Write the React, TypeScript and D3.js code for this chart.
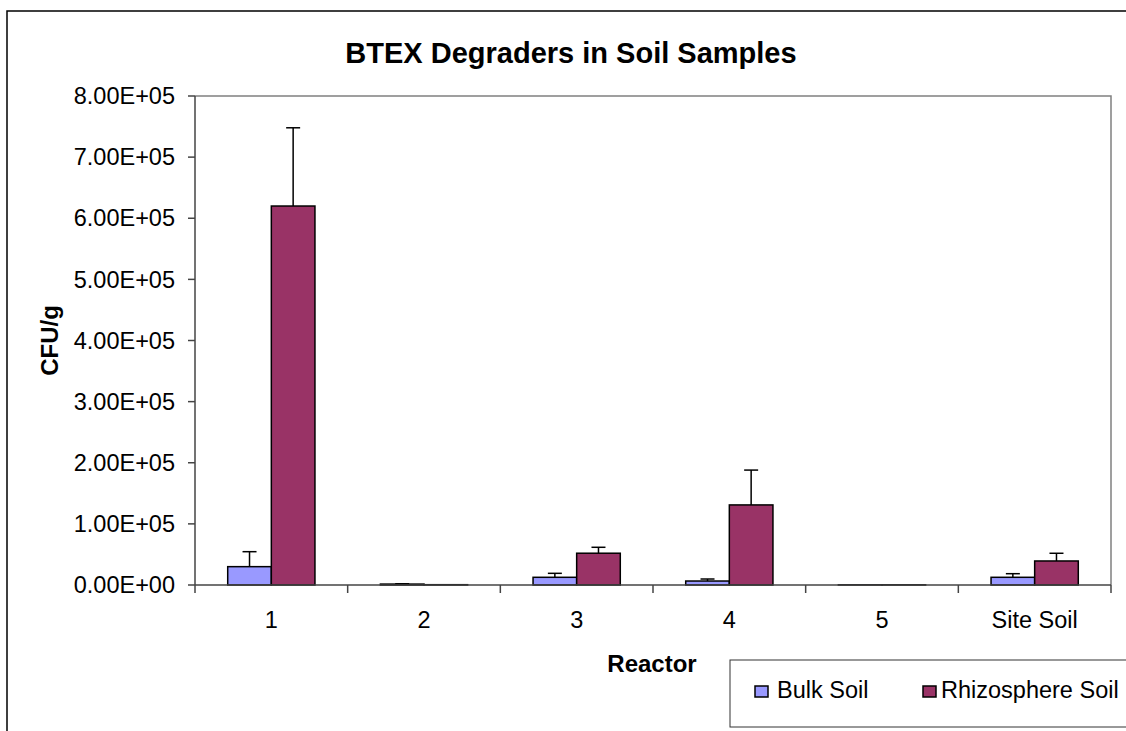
import React from "react";
import * as d3 from "d3";

const categories = ["1", "2", "3", "4", "5", "Site Soil"];
const seriesNames = ["Bulk Soil", "Rhizosphere Soil"];
const bulkValues = [30000, 1500, 12600, 6500, 300, 12600];
const bulkErrors = [24500, 500, 6500, 3300, 0, 5900];
const rhizoValues = [620000, 500, 52000, 131000, 300, 39300];
const rhizoErrors = [128000, 0, 9700, 57000, 0, 12600];
const yTicks = [0, 100000, 200000, 300000, 400000, 500000, 600000, 700000, 800000];
const colors = ["#9999FF", "#993366"];

const W = 1126;
const H = 731;
const plot = { left: 195, right: 1111, top: 96, bottom: 585 };
const FONT = "'Liberation Sans', Arial, sans-serif";

export default function App() {
  const x = d3.scaleBand<string>().domain(categories).range([plot.left, plot.right]).padding(0);
  const xs = d3
    .scaleBand<string>()
    .domain(seriesNames)
    .range([0, x.bandwidth()])
    .paddingInner(0)
    .paddingOuter(0.75);
  const y = d3.scaleLinear().domain([0, 800000]).range([plot.bottom, plot.top]);
  const fmt = (v: number) => {
    const [m, e] = v.toExponential(2).split("e");
    const ex = parseInt(e, 10);
    return `${m}E${ex < 0 ? "-" : "+"}${String(Math.abs(ex)).padStart(2, "0")}`;
  };
  const series = [
    { name: seriesNames[0], values: bulkValues, errors: bulkErrors, color: colors[0] },
    { name: seriesNames[1], values: rhizoValues, errors: rhizoErrors, color: colors[1] },
  ];
  const tickEdges = [...categories.map((c) => x(c)!), plot.right];
  const legendPos = [
    { sx: 755, tx: 777 },
    { sx: 923, tx: 941 },
  ];

  return (
    <svg
      width={W}
      height={H}
      style={{ position: "absolute", left: 0, top: 0, background: "#fff" }}
      fontFamily={FONT}
    >
      <rect x={0} y={0} width={W} height={H} fill="#fff" />
      {/* outer chart border */}
      <rect x={7} y={11} width={1140} height={740} fill="none" stroke="#000" strokeWidth={1.5} />
      {/* title */}
      <text x={571} y={63} textAnchor="middle" fontSize={29} fontWeight="bold">
        BTEX Degraders in Soil Samples
      </text>
      {/* plot border (top/right) */}
      <path
        d={`M${plot.left},${plot.top}H${plot.right}V${plot.bottom}`}
        fill="none"
        stroke="#808080"
        strokeWidth={1.5}
      />
      {/* y axis */}
      <line x1={plot.left} x2={plot.left} y1={plot.top} y2={plot.bottom} stroke="#444" strokeWidth={1.5} />
      {yTicks.map((t) => (
        <g key={t}>
          <line x1={plot.left - 7} x2={plot.left} y1={y(t)} y2={y(t)} stroke="#444" strokeWidth={1.5} />
          <text x={175} y={y(t)} dy="0.35em" textAnchor="end" fontSize={23.5}>
            {fmt(t)}
          </text>
        </g>
      ))}
      {/* bars */}
      {series.map((s) =>
        categories.map((c, i) => {
          const bx = x(c)! + xs(s.name)!;
          const bw = xs.bandwidth();
          const top = y(s.values[i]);
          return (
            <rect
              key={s.name + c}
              x={bx}
              y={top}
              width={bw}
              height={plot.bottom - top}
              fill={s.color}
              stroke="#000"
              strokeWidth={1.5}
            />
          );
        })
      )}
      {/* error bars */}
      {series.map((s) =>
        categories.map((c, i) => {
          if (!s.errors[i]) return null;
          const cx = x(c)! + xs(s.name)! + xs.bandwidth() / 2;
          const y0 = y(s.values[i]);
          const y1 = y(s.values[i] + s.errors[i]);
          return (
            <g key={"e" + s.name + c} stroke="#000" strokeWidth={1.5}>
              <line x1={cx} x2={cx} y1={y0} y2={y1} />
              <line x1={cx - 7} x2={cx + 7} y1={y1} y2={y1} />
            </g>
          );
        })
      )}
      {/* x axis */}
      <line x1={plot.left} x2={plot.right} y1={plot.bottom} y2={plot.bottom} stroke="#444" strokeWidth={1.5} />
      {tickEdges.map((tx, i) => (
        <line key={i} x1={tx} x2={tx} y1={plot.bottom} y2={plot.bottom + 8} stroke="#444" strokeWidth={1.5} />
      ))}
      {categories.map((c) => (
        <text key={c} x={x(c)! + x.bandwidth() / 2} y={628} textAnchor="middle" fontSize={23.5}>
          {c}
        </text>
      ))}
      {/* axis titles */}
      <text x={652} y={672} textAnchor="middle" fontSize={24} fontWeight="bold">
        Reactor
      </text>
      <text
        transform={`translate(58,${(plot.top + plot.bottom) / 2}) rotate(-90)`}
        textAnchor="middle"
        fontSize={24}
        fontWeight="bold"
      >
        CFU/g
      </text>
      {/* legend */}
      <rect x={730} y={660} width={420} height={67} fill="#fff" stroke="#333" strokeWidth={1} />
      {series.map((s, i) => (
        <g key={"l" + s.name}>
          <rect x={legendPos[i].sx} y={686} width={13} height={11} fill={s.color} stroke="#000" strokeWidth={1.5} />
          <text x={legendPos[i].tx} y={698} fontSize={23.5}>
            {s.name}
          </text>
        </g>
      ))}
    </svg>
  );
}
